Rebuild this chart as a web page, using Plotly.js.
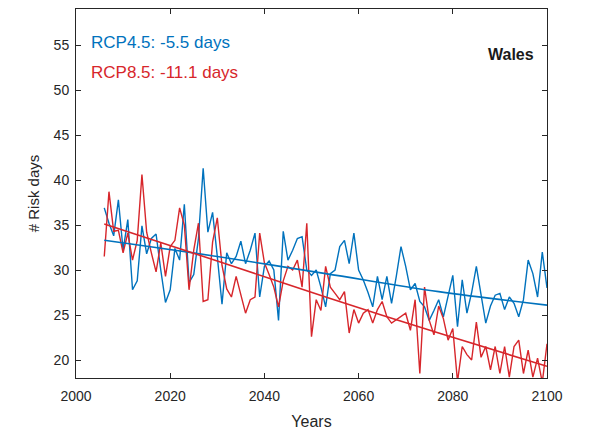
<!DOCTYPE html>
<html>
<head>
<meta charset="utf-8">
<script src="https://cdn.plot.ly/plotly-3.0.1.min.js"></script>
<style>html,body{margin:0;padding:0;background:#fff;}#chart{width:590px;height:438px;}</style>
</head>
<body>
<div id="chart"></div>
<script>
const years = [];
for (let y = 2006; y <= 2100; y++) years.push(y);

const rcp45 = [
  36.9, 35.2, 33.8, 37.8, 32.2, 35.6, 27.8, 28.8, 34.9, 31.8,
  33.5, 34.0, 30.0, 26.4, 27.8, 32.4, 31.1, 37.3, 28.6, 29.5,
  33.5, 41.3, 34.2, 36.4, 31.5, 26.2, 31.9, 30.7, 31.5, 33.2,
  30.7, 32.2, 34.1, 27.0, 30.4, 31.0, 30.0, 24.4, 34.3, 31.1,
  32.2, 33.5, 33.7, 30.0, 29.4, 30.0, 28.1, 25.9, 29.6, 30.0,
  32.6, 33.3, 30.7, 34.1, 30.0, 28.9, 27.5, 25.9, 29.3, 26.7,
  29.3, 26.3, 29.3, 32.6, 30.4, 27.8, 28.5, 26.5, 25.9, 24.4,
  25.5, 26.7, 24.8, 27.0, 29.4, 23.7, 28.9, 25.2, 27.5, 30.4,
  27.0, 24.1, 26.0, 27.2, 27.4, 25.6, 27.0, 26.3, 24.8, 26.7,
  31.1, 29.6, 27.0, 32.0, 28.0
];

const rcp85 = [
  31.5, 38.7, 34.3, 34.4, 31.9, 34.1, 31.1, 33.3, 40.6, 34.2,
  31.9, 29.8, 33.0, 29.3, 32.6, 33.3, 36.9, 35.0, 27.8, 32.2,
  35.2, 26.5, 26.7, 33.1, 35.8, 30.5, 27.9, 27.0, 29.3, 27.4,
  25.2, 26.7, 27.0, 34.1, 30.8, 29.5, 28.1, 25.9, 28.8, 30.4,
  30.0, 31.1, 28.1, 35.2, 22.6, 26.7, 25.5, 30.4, 28.1, 27.4,
  26.7, 27.6, 23.0, 25.6, 24.1, 25.2, 25.6, 24.1, 25.6, 26.5,
  24.8, 24.1, 24.5, 24.8, 25.2, 23.3, 26.7, 18.5, 28.1, 24.4,
  22.8, 26.0, 24.6, 22.2, 23.5, 17.6, 21.5, 20.6, 20.0, 24.2,
  20.3, 21.5, 18.9, 21.5, 18.5, 21.5, 18.1, 21.5, 22.2, 18.5,
  21.1, 18.1, 20.2, 17.5, 21.8
];

// Fitted trend curves at a few years
const trendYears = [2006, 2030, 2053, 2077, 2100];
const trend45 = [33.3, 31.5, 29.6, 27.6, 26.1];
const trend85 = [35.1, 31.0, 27.0, 23.0, 19.3];

const xTicks = [2000, 2020, 2040, 2060, 2080, 2100];
const yTicks = [20, 25, 30, 35, 40, 45, 50, 55];
const labels = ['RCP4.5: -5.5 days', 'RCP8.5: -11.1 days'];
const region = 'Wales';

const blue = '#0072BD';
const red = '#D7262B';
const dark = '#262626';
const font = 'Liberation Sans, Arial, sans-serif';

const traces = [
  {x: years, y: rcp45, mode: 'lines', line: {color: blue, width: 1.4}, hoverinfo: 'skip'},
  {x: years, y: rcp85, mode: 'lines', line: {color: red, width: 1.4}, hoverinfo: 'skip'},
  {x: trendYears, y: trend45, mode: 'lines', line: {color: blue, width: 1.6, shape: 'spline'}, hoverinfo: 'skip'},
  {x: trendYears, y: trend85, mode: 'lines', line: {color: red, width: 1.6, shape: 'spline'}, hoverinfo: 'skip'}
];

const axisCommon = {
  showline: true, linecolor: dark, linewidth: 1, mirror: 'ticks',
  ticks: 'inside', ticklen: 5, tickcolor: dark, tickwidth: 1,
  showgrid: false, zeroline: false,
  tickfont: {family: font, size: 14, color: dark}
};

const layout = {
  width: 590, height: 438,
  margin: {l: 76, r: 43, t: 9, b: 60},
  paper_bgcolor: '#fff', plot_bgcolor: '#fff',
  showlegend: false,
  xaxis: Object.assign({}, axisCommon, {
    range: [2000, 2100], tickvals: xTicks, ticklabelstandoff: 5,
    title: {text: 'Years', font: {family: font, size: 16, color: dark}, standoff: 13}
  }),
  yaxis: Object.assign({}, axisCommon, {
    range: [18, 59], tickvals: yTicks, ticklabelstandoff: 3,
    title: {text: '# Risk days', font: {family: font, size: 15, color: dark}, standoff: 10}
  }),
  annotations: [
    {x: 2002.7, y: 55.3, xref: 'x', yref: 'y', xanchor: 'left', yanchor: 'middle', showarrow: false,
     text: labels[0], font: {family: font, size: 17, color: blue}},
    {x: 2002.7, y: 52.0, xref: 'x', yref: 'y', xanchor: 'left', yanchor: 'middle', showarrow: false,
     text: labels[1], font: {family: font, size: 17, color: red}},
    {x: 2097.6, y: 53.9, xref: 'x', yref: 'y', xanchor: 'right', yanchor: 'middle', showarrow: false,
     text: '<b>' + region + '</b>', font: {family: font, size: 16, color: '#1a1a1a'}}
  ]
};

Plotly.newPlot('chart', traces, layout, {displayModeBar: false, staticPlot: true});
</script>
</body>
</html>
